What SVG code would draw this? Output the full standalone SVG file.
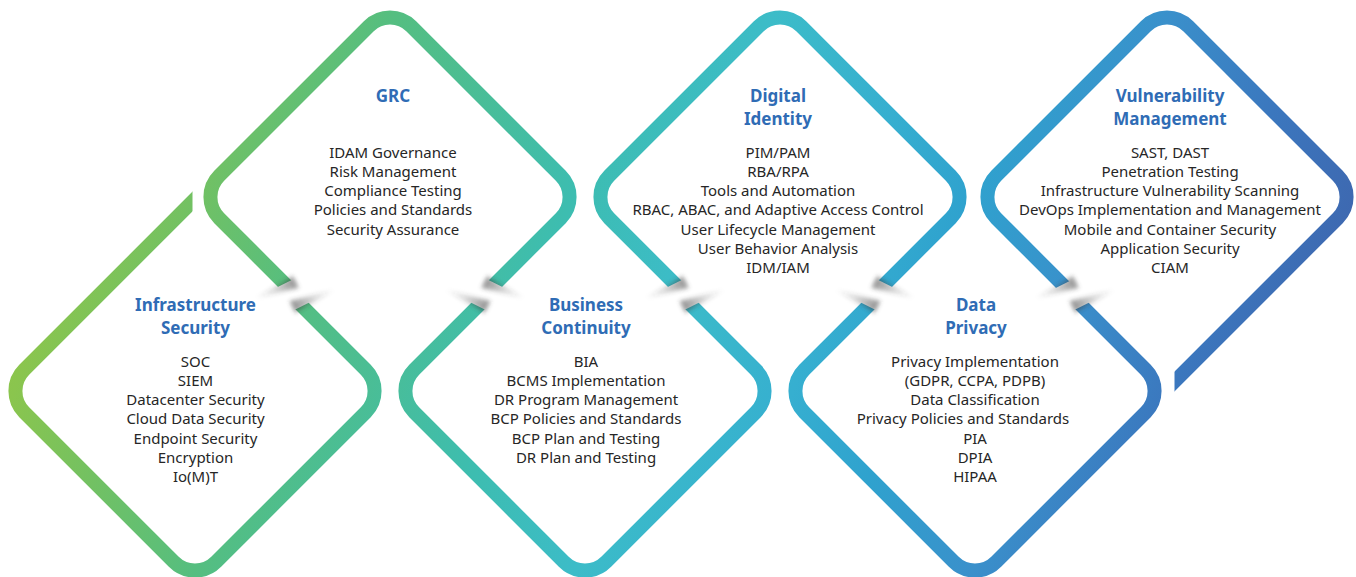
<svg xmlns="http://www.w3.org/2000/svg" width="1356" height="577" viewBox="0 0 1356 577">
<defs>
<linearGradient id="rib" gradientUnits="userSpaceOnUse" x1="0" y1="0" x2="1356" y2="480">
<stop offset="0" stop-color="#96C93F"/>
<stop offset="0.10" stop-color="#8AC54E"/>
<stop offset="0.17" stop-color="#73C162"/>
<stop offset="0.26" stop-color="#55BE80"/>
<stop offset="0.42" stop-color="#3DBDB0"/>
<stop offset="0.51" stop-color="#3CBCC8"/>
<stop offset="0.61" stop-color="#36AFD0"/>
<stop offset="0.68" stop-color="#2FA2CE"/>
<stop offset="0.77" stop-color="#3A90CB"/>
<stop offset="0.86" stop-color="#3B77BE"/>
<stop offset="0.94" stop-color="#3E68B0"/>
<stop offset="1" stop-color="#3F62AA"/>
</linearGradient>
<linearGradient id="shR" x1="1" y1="0" x2="0" y2="0">
<stop offset="0" stop-color="#3a3a3a" stop-opacity="0.55"/>
<stop offset="0.5" stop-color="#3a3a3a" stop-opacity="0.2"/>
<stop offset="1" stop-color="#3a3a3a" stop-opacity="0"/>
</linearGradient>
<linearGradient id="shL" x1="0" y1="0" x2="1" y2="0">
<stop offset="0" stop-color="#3a3a3a" stop-opacity="0.55"/>
<stop offset="0.5" stop-color="#3a3a3a" stop-opacity="0.2"/>
<stop offset="1" stop-color="#3a3a3a" stop-opacity="0"/>
</linearGradient>
<filter id="soft" x="-50%" y="-100%" width="200%" height="300%">
<feGaussianBlur stdDeviation="2.2"/>
</filter>
<clipPath id="clipStart"><path d="M0 0H192.5V240H1356V577H0Z"/></clipPath>
<clipPath id="clipEnd"><path d="M0 0H1356V577H1174.5V330H0Z"/></clipPath>
<g id="xing">
<rect x="-24" y="-14" width="48" height="28" fill="#fff"/>
<polygon points="6,-17 -38,-14 6,-4" fill="url(#shR)" filter="url(#soft)"/>
<polygon points="-8,17 38,14 -8,4" fill="url(#shL)" filter="url(#soft)"/>
</g>
</defs>
<style>
.rib{fill:none;stroke:url(#rib);stroke-width:14;stroke-linejoin:round}
.t{font-family:"Noto Sans","Open Sans","DejaVu Sans",sans-serif;font-size:17px;font-weight:700;fill:#2F6CB5;text-anchor:middle}
.b{font-family:"Noto Sans","Open Sans","DejaVu Sans",sans-serif;font-size:15px;fill:#262626;text-anchor:middle}
</style>
<rect width="1356" height="577" fill="#fff"/>

<g id="infrastructure-security">
<path class="rib" clip-path="url(#clipStart)" d="M200 194L24.21 369.79A30 30 0 0 0 24.21 412.21L173.79 561.79A30 30 0 0 0 216.21 561.79L365.79 412.21A30 30 0 0 0 365.79 369.79L291.7 295.7"/>
<text class="t" x="195.5" y="311">Infrastructure</text>
<text class="t" x="195.5" y="334">Security</text>
<text class="b" y="367"><tspan x="195.5">SOC</tspan><tspan x="195.5" dy="19.15">SIEM</tspan><tspan x="195.5" dy="19.15">Datacenter Security</tspan><tspan x="195.5" dy="19.15">Cloud Data Security</tspan><tspan x="195.5" dy="19.15">Endpoint Security</tspan><tspan x="195.5" dy="19.15">Encryption</tspan><tspan x="195.5" dy="19.15">Io(M)T</tspan></text>
</g>

<g id="grc">
<path class="rib" d="M295 294L219.21 218.21A30 30 0 0 1 219.21 175.79L368.79 26.21A30 30 0 0 1 411.21 26.21L560.79 175.79A30 30 0 0 1 560.79 218.21L485 294"/>
<text class="t" x="393" y="101.7">GRC</text>
<text class="b" y="158"><tspan x="393">IDAM Governance</tspan><tspan x="393" dy="19.15">Risk Management</tspan><tspan x="393" dy="19.15">Compliance Testing</tspan><tspan x="393" dy="19.15">Policies and Standards</tspan><tspan x="393" dy="19.15">Security Assurance</tspan></text>
</g>

<g id="business-continuity">
<path class="rib" d="M488.3 295.7L414.21 369.79A30 30 0 0 0 414.21 412.21L563.79 561.79A30 30 0 0 0 606.21 561.79L755.79 412.21A30 30 0 0 0 755.79 369.79L681.7 295.7"/>
<text class="t" x="586" y="311">Business</text>
<text class="t" x="586" y="334">Continuity</text>
<text class="b" y="367"><tspan x="586">BIA</tspan><tspan x="586" dy="19.15">BCMS Implementation</tspan><tspan x="586" dy="19.15">DR Program Management</tspan><tspan x="586" dy="19.15">BCP Policies and Standards</tspan><tspan x="586" dy="19.15">BCP Plan and Testing</tspan><tspan x="586" dy="19.15">DR Plan and Testing</tspan></text>
</g>

<g id="digital-identity">
<path class="rib" d="M685 294L609.21 218.21A30 30 0 0 1 609.21 175.79L758.79 26.21A30 30 0 0 1 801.21 26.21L950.79 175.79A30 30 0 0 1 950.79 218.21L875 294"/>
<text class="t" x="778" y="101.5">Digital</text>
<text class="t" x="778" y="124.5">Identity</text>
<text class="b" y="158"><tspan x="778">PIM/PAM</tspan><tspan x="778" dy="19.15">RBA/RPA</tspan><tspan x="778" dy="19.15">Tools and Automation</tspan><tspan x="778" dy="19.15">RBAC, ABAC, and Adaptive Access Control</tspan><tspan x="778" dy="19.15">User Lifecycle Management</tspan><tspan x="778" dy="19.15">User Behavior Analysis</tspan><tspan x="778" dy="19.15">IDM/IAM</tspan></text>
</g>

<g id="data-privacy">
<path class="rib" d="M878.3 295.7L804.21 369.79A30 30 0 0 0 804.21 412.21L953.79 561.79A30 30 0 0 0 996.21 561.79L1145.79 412.21A30 30 0 0 0 1145.79 369.79L1071.7 295.7"/>
<text class="t" x="976" y="311">Data</text>
<text class="t" x="976" y="334">Privacy</text>
<text class="b" y="367"><tspan x="975">Privacy Implementation</tspan><tspan x="975" dy="19.15">(GDPR, CCPA, PDPB)</tspan><tspan x="975" dy="19.15">Data Classification</tspan><tspan x="963" dy="19.15">Privacy Policies and Standards</tspan><tspan x="975" dy="19.15">PIA</tspan><tspan x="975" dy="19.15">DPIA</tspan><tspan x="975" dy="19.15">HIPAA</tspan></text>
</g>

<g id="vulnerability-management">
<path class="rib" clip-path="url(#clipEnd)" d="M1073 295L996.21 218.21A30 30 0 0 1 996.21 175.79L1145.79 26.21A30 30 0 0 1 1188.21 26.21L1337.79 175.79A30 30 0 0 1 1337.79 218.21L1162 394"/>
<text class="t" x="1170" y="101.5">Vulnerability</text>
<text class="t" x="1170" y="124.5">Management</text>
<text class="b" y="158"><tspan x="1170">SAST, DAST</tspan><tspan x="1170" dy="19.15">Penetration Testing</tspan><tspan x="1170" dy="19.15">Infrastructure Vulnerability Scanning</tspan><tspan x="1170" dy="19.15">DevOps Implementation and Management</tspan><tspan x="1170" dy="19.15">Mobile and Container Security</tspan><tspan x="1170" dy="19.15">Application Security</tspan><tspan x="1170" dy="19.15">CIAM</tspan></text>
</g>

<g id="connectors">
<use href="#xing" transform="translate(295 294) rotate(-26.565)"/>
<use href="#xing" transform="translate(485 294) scale(-1 1) rotate(-26.565)"/>
<use href="#xing" transform="translate(685 294) rotate(-26.565)"/>
<use href="#xing" transform="translate(875 294) scale(-1 1) rotate(-26.565)"/>
<use href="#xing" transform="translate(1075 294) rotate(-26.565)"/>
</g>
</svg>
